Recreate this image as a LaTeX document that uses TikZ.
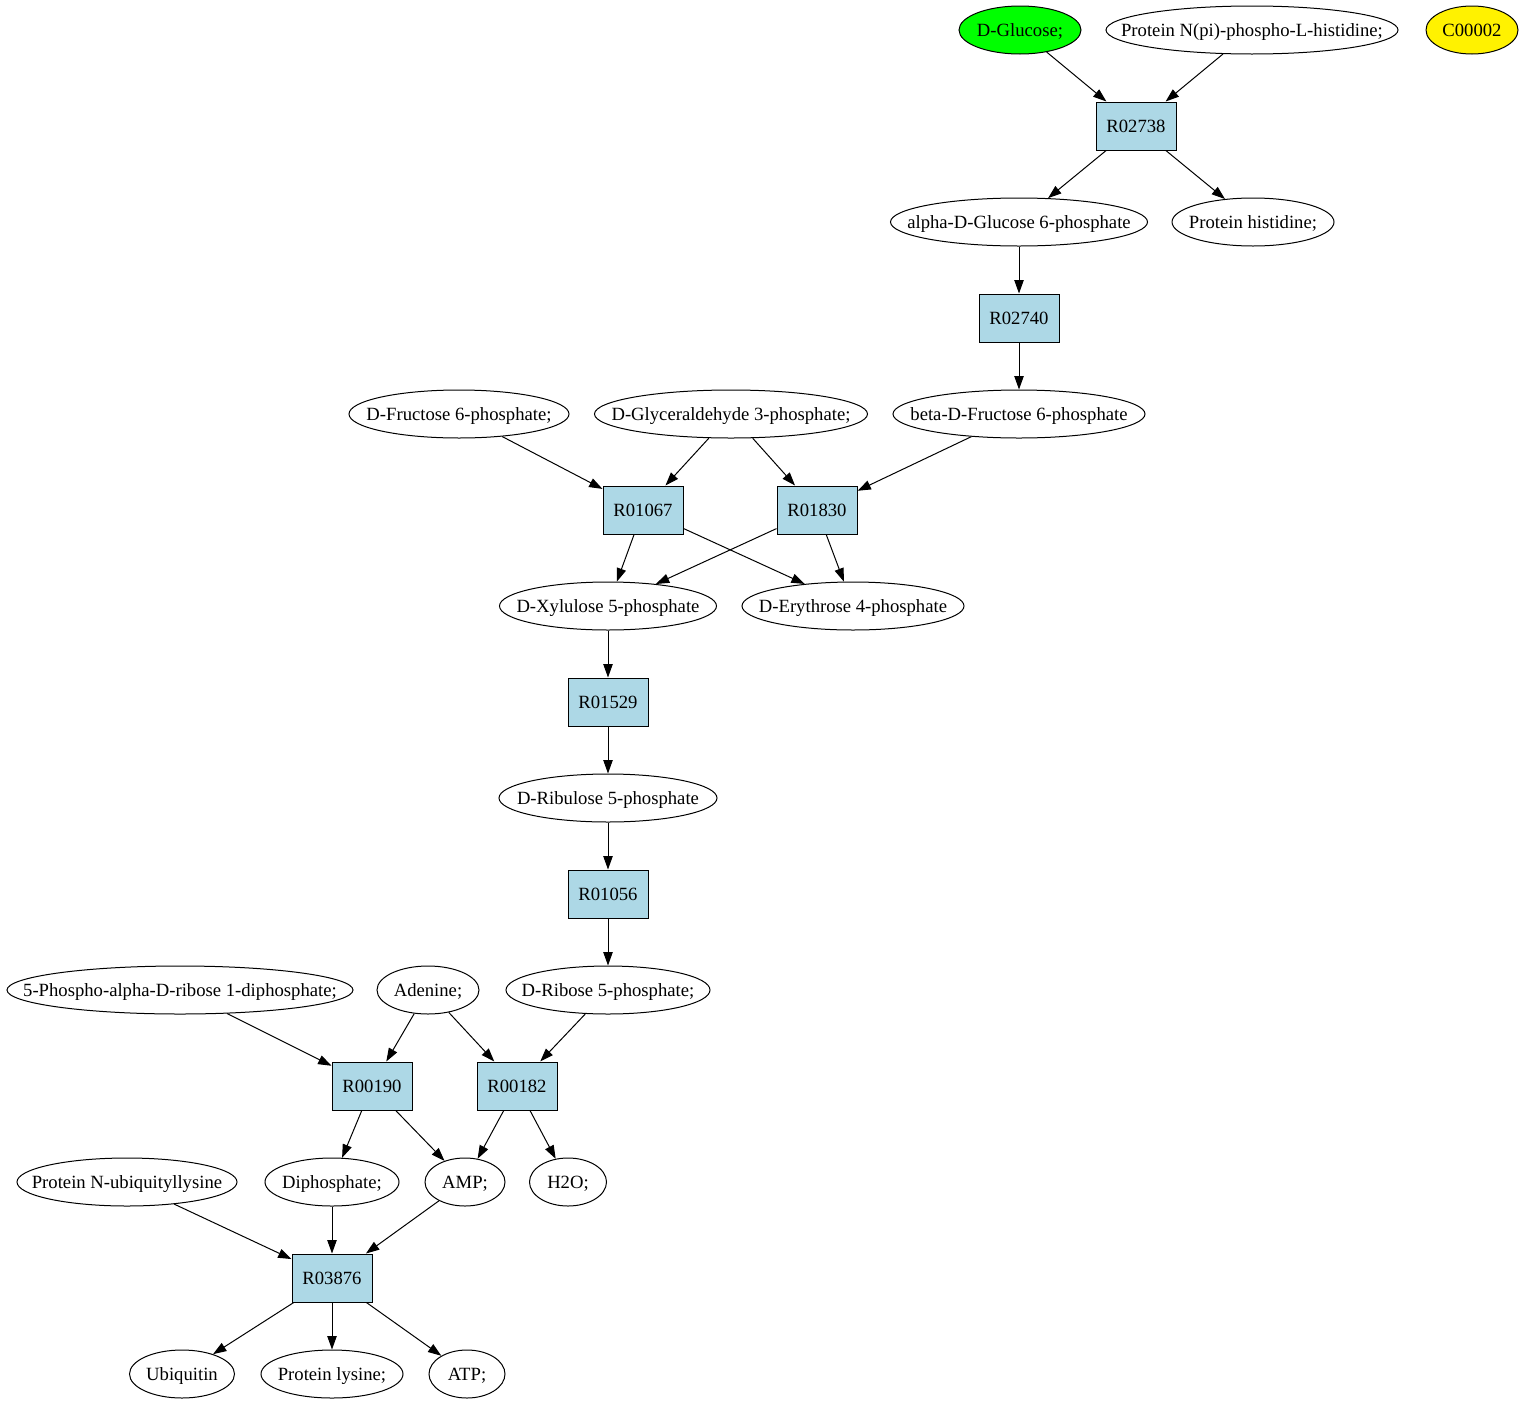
\documentclass[tikz,border=0pt]{standalone}
\usepackage{fontspec}
\setmainfont{Liberation Serif}
\usetikzlibrary{shapes.geometric,arrows.meta}
\definecolor{rxnblue}{HTML}{ADD8E6}
\begin{document}
\begin{tikzpicture}[x=0.75pt,y=-0.75pt,
    font=\fontsize{14}{16}\selectfont,
    met/.style={ellipse,draw,line width=0.75pt,inner sep=0pt,
      minimum width=#1*0.75pt,minimum height=36pt,
      text height=10pt,text depth=0.7pt,
      execute at begin node={\hbox to 0pt\bgroup\hss},
      execute at end node={\hss\egroup}},
    rxn/.style={rectangle,draw,fill=rxnblue,line width=0.75pt,inner sep=0pt,
      minimum width=60pt,minimum height=36pt,
      text height=10pt,text depth=0.7pt},
    edge/.style={line width=0.75pt,-{Triangle[length=10pt,width=7pt]}}]
  \useasboundingbox (0,0) rectangle (1524,1403);
  % compounds
  \node[met=122,fill=green] (glc) at (1020,30) {D-Glucose;};
  \node[met=292] (phis) at (1252,30) {Protein N(pi)-phospho-L-histidine;};
  \node[met=92,fill=yellow] (c2) at (1472,30) {C00002};
  \node[met=257] (g6p) at (1019,222) {alpha-D-Glucose 6-phosphate};
  \node[met=162] (his) at (1253,222) {Protein histidine;};
  \node[met=252] (f6pb) at (1019,414) {beta-D-Fructose 6-phosphate};
  \node[met=220] (f6p) at (459,414) {D-Fructose 6-phosphate;};
  \node[met=273] (gap) at (731,414) {D-Glyceraldehyde 3-phosphate;};
  \node[met=217] (xu5p) at (608,606) {D-Xylulose 5-phosphate};
  \node[met=222] (e4p) at (853,606) {D-Erythrose 4-phosphate};
  \node[met=218] (ru5p) at (608,798) {D-Ribulose 5-phosphate};
  \node[met=204] (r5p) at (608,990) {D-Ribose 5-phosphate;};
  \node[met=102] (ade) at (428,990) {Adenine;};
  \node[met=346] (prpp) at (180,990) {5-Phospho-alpha-D-ribose 1-diphosphate;};
  \node[met=220] (ubk) at (127,1182) {Protein N-ubiquityllysine};
  \node[met=134] (ppi) at (332,1182) {Diphosphate;};
  \node[met=80] (amp) at (465,1182) {AMP;};
  \node[met=77] (hoh) at (568,1182) {H2O;};
  \node[met=105] (ub) at (182,1374) {Ubiquitin};
  \node[met=142] (lys) at (332,1374) {Protein lysine;};
  \node[met=76] (atp) at (467,1374) {ATP;};
  % reactions
  \node[rxn] (r02738) at (1136,126) {R02738};
  \node[rxn] (r02740) at (1019,318) {R02740};
  \node[rxn] (r01067) at (643,510) {R01067};
  \node[rxn] (r01830) at (817,510) {R01830};
  \node[rxn] (r01529) at (608,702) {R01529};
  \node[rxn] (r01056) at (608,894) {R01056};
  \node[rxn] (r00190) at (372,1086) {R00190};
  \node[rxn] (r00182) at (517,1086) {R00182};
  \node[rxn] (r03876) at (332,1278) {R03876};
  % edges
  \draw[edge] (glc) -- (r02738);
  \draw[edge] (phis) -- (r02738);
  \draw[edge] (r02738) -- (g6p);
  \draw[edge] (r02738) -- (his);
  \draw[edge] (g6p) -- (r02740);
  \draw[edge] (r02740) -- (f6pb);
  \draw[edge] (f6p) -- (r01067);
  \draw[edge] (gap) -- (r01067);
  \draw[edge] (gap) -- (r01830);
  \draw[edge] (f6pb) -- (r01830);
  \draw[edge] (r01067) -- (xu5p);
  \draw[edge] (r01067) -- (e4p);
  \draw[edge] (r01830) -- (xu5p);
  \draw[edge] (r01830) -- (e4p);
  \draw[edge] (xu5p) -- (r01529);
  \draw[edge] (r01529) -- (ru5p);
  \draw[edge] (ru5p) -- (r01056);
  \draw[edge] (r01056) -- (r5p);
  \draw[edge] (prpp) -- (r00190);
  \draw[edge] (ade) -- (r00190);
  \draw[edge] (ade) -- (r00182);
  \draw[edge] (r5p) -- (r00182);
  \draw[edge] (r00190) -- (ppi);
  \draw[edge] (r00190) -- (amp);
  \draw[edge] (r00182) -- (amp);
  \draw[edge] (r00182) -- (hoh);
  \draw[edge] (ubk) -- (r03876);
  \draw[edge] (ppi) -- (r03876);
  \draw[edge] (amp) -- (r03876);
  \draw[edge] (r03876) -- (ub);
  \draw[edge] (r03876) -- (lys);
  \draw[edge] (r03876) -- (atp);
\end{tikzpicture}
\end{document}
